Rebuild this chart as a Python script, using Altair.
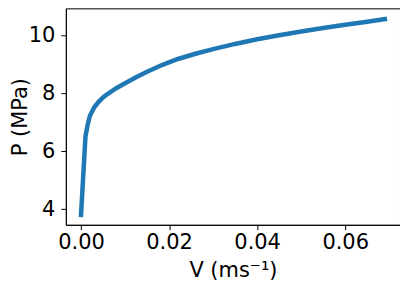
import altair as alt
import pandas as pd

# Data
V = [0, 0.001, 0.0015, 0.002, 0.003, 0.004, 0.005, 0.006, 0.008, 0.01, 0.0125,
     0.015, 0.0185, 0.022, 0.026, 0.03, 0.035, 0.04, 0.045, 0.05, 0.055, 0.06,
     0.065, 0.069]
P = [3.8, 6.5, 6.92, 7.22, 7.52, 7.71, 7.86, 7.98, 8.18, 8.35, 8.56,
     8.75, 8.99, 9.19, 9.37, 9.53, 9.71, 9.87, 10.01, 10.14, 10.26, 10.37,
     10.48, 10.57]
x_ticks = [0, 0.02, 0.04, 0.06]
y_ticks = [4, 6, 8, 10]

df = pd.DataFrame({"V": V, "P": P, "order": list(range(len(V)))})

FONT = "DejaVu Sans"

chart = alt.Chart(df).mark_line(
    color="#1f77b4", strokeWidth=4.5, strokeCap="square"
).encode(
    x=alt.X("V:Q",
            scale=alt.Scale(domain=[-0.00345, 0.07245], nice=False, zero=False),
            axis=alt.Axis(values=x_ticks, format=".2f", title="V (ms⁻¹)",
                          labelPadding=1.7, titleY=35)),
    y=alt.Y("P:Q",
            scale=alt.Scale(domain=[3.46, 10.94], nice=False, zero=False),
            axis=alt.Axis(values=y_ticks, format="d", title="P (MPa)",
                          labelPadding=6, titleX=-35, titleY=108.5)),
    order="order:Q",
).properties(
    width=335,
    height=217,
    autosize=alt.AutoSizeParams(type="none"),
    padding={"left": 58, "top": 0, "right": 0, "bottom": 56},
).configure_view(
    stroke="black", strokeWidth=1
).configure_axis(
    grid=False,
    domainColor="black",
    domainWidth=1,
    tickColor="black",
    tickSize=5,
    tickWidth=1,
    labelFont=FONT,
    labelFontSize=21,
    labelColor="black",
    titleFont=FONT,
    titleFontSize=21,
    titleFontWeight="normal",
    titleColor="black",
    labelFlush=False,
    labelOverlap=False,
)

chart.save("out.html", embed_options={"renderer": "svg", "actions": False})
